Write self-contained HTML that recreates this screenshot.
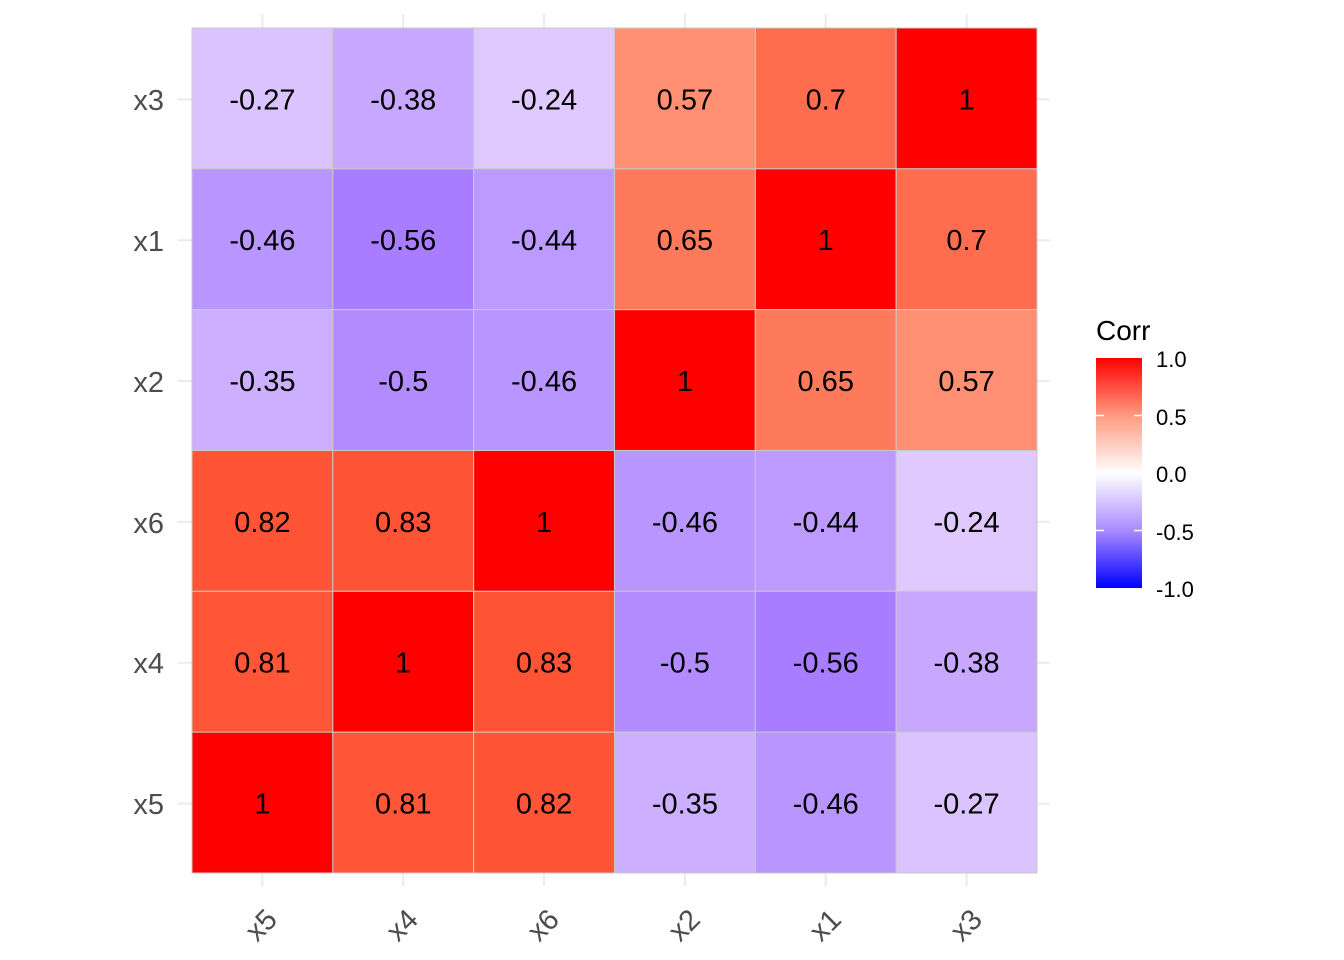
<!DOCTYPE html><html><head><style>body{margin:0;background:#fff}svg{display:block}text{font-family:"Liberation Sans",sans-serif}</style></head><body>
<svg width="1344" height="960" xmlns="http://www.w3.org/2000/svg">
<defs><linearGradient id="g" x1="0" y1="0" x2="0" y2="1">
<stop offset="0" stop-color="#ff0000"/><stop offset="0.25" stop-color="#ff9a80"/><stop offset="0.5" stop-color="#ffffff"/><stop offset="0.75" stop-color="#a98aff"/><stop offset="1" stop-color="#0000ff"/></linearGradient></defs>
<g stroke="#ebebeb" stroke-width="2">
<line x1="262.4" y1="14" x2="262.4" y2="886"/><line x1="403.2" y1="14" x2="403.2" y2="886"/><line x1="544" y1="14" x2="544" y2="886"/><line x1="684.9" y1="14" x2="684.9" y2="886"/><line x1="825.7" y1="14" x2="825.7" y2="886"/><line x1="966.6" y1="14" x2="966.6" y2="886"/>
<line x1="178" y1="99.4" x2="1050" y2="99.4"/><line x1="178" y1="240.2" x2="1050" y2="240.2"/><line x1="178" y1="381" x2="1050" y2="381"/><line x1="178" y1="521.9" x2="1050" y2="521.9"/><line x1="178" y1="662.7" x2="1050" y2="662.7"/><line x1="178" y1="803.6" x2="1050" y2="803.6"/>
</g>
<g id="cells" stroke="#c8c8c8" stroke-width="1"></g>
<g id="txt" font-size="29" text-anchor="middle" fill="#000"></g>
<g font-size="29" fill="#4d4d4d" text-anchor="end">
<text x="164" y="110">x3</text><text x="164" y="251">x1</text><text x="164" y="392">x2</text><text x="164" y="533">x6</text><text x="164" y="673">x4</text><text x="164" y="814">x5</text></g>
<g font-size="29" fill="#4d4d4d" text-anchor="middle">
<text transform="translate(268,932) rotate(-45)">x5</text><text transform="translate(409,932) rotate(-45)">x4</text><text transform="translate(550,932) rotate(-45)">x6</text><text transform="translate(691,932) rotate(-45)">x2</text><text transform="translate(832,932) rotate(-45)">x1</text><text transform="translate(973,932) rotate(-45)">x3</text></g>
<text x="1096" y="340" font-size="28" fill="#000">Corr</text>
<rect x="1096" y="358" width="46" height="230" fill="url(#g)"/>
<g stroke="#fff" stroke-width="1.5"><line x1="1096" y1="415.5" x2="1104" y2="415.5"/><line x1="1134" y1="415.5" x2="1142" y2="415.5"/><line x1="1096" y1="473" x2="1104" y2="473"/><line x1="1134" y1="473" x2="1142" y2="473"/><line x1="1096" y1="530.5" x2="1104" y2="530.5"/><line x1="1134" y1="530.5" x2="1142" y2="530.5"/></g>
<g font-size="22" fill="#000"><text x="1156" y="367">1.0</text><text x="1156" y="425">0.5</text><text x="1156" y="482">0.0</text><text x="1156" y="540">-0.5</text><text x="1156" y="597">-1.0</text></g>
<script>
var M=[[-0.27,-0.38,-0.24,0.57,0.7,1],[-0.46,-0.56,-0.44,0.65,1,0.7],[-0.35,-0.5,-0.46,1,0.65,0.57],[0.82,0.83,1,-0.46,-0.44,-0.24],[0.81,1,0.83,-0.5,-0.56,-0.38],[1,0.81,0.82,-0.35,-0.46,-0.27]];
var C={"-0.27":"#dac3ff","-0.24":"#dfc9ff","-0.35":"#ccb0ff","-0.38":"#c8a8ff","-0.44":"#bd9aff","-0.46":"#b996ff","-0.5":"#b28cff","-0.56":"#a87dff","0.57":"#ff8f72","0.65":"#ff7a5b","0.7":"#ff6c4e","0.81":"#ff5638","0.82":"#ff5436","0.83":"#ff5335","1":"#ff0000"};
var s=140.83,x0=192,y0=28,cg=document.getElementById('cells'),tg=document.getElementById('txt'),ns="http://www.w3.org/2000/svg";
for(var r=0;r<6;r++)for(var c=0;c<6;c++){var v=M[r][c],e=document.createElementNS(ns,'rect');e.setAttribute('x',x0+c*s);e.setAttribute('y',y0+r*s);e.setAttribute('width',s);e.setAttribute('height',s);e.setAttribute('fill',C[String(v)]);cg.appendChild(e);
var t=document.createElementNS(ns,'text');t.setAttribute('x',x0+c*s+s/2);t.setAttribute('y',y0+r*s+s/2+11);t.textContent=String(v);tg.appendChild(t);}
</script>
</svg></body></html>
